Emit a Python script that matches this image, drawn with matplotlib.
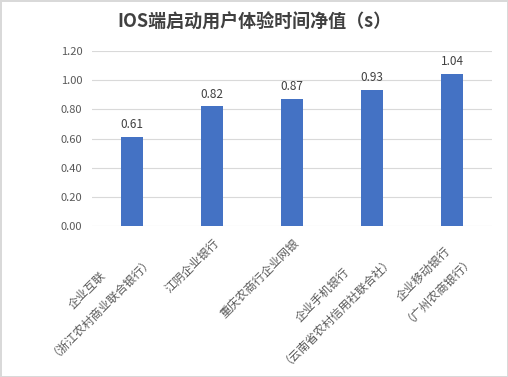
import matplotlib.pyplot as plt
import numpy as np

plt.rcParams['font.family'] = ['Noto Sans CJK SC', 'DejaVu Sans']

banks = ['企业互联\n（浙江农村商业联合银行）', '江阴企业银行', '重庆农商行企业网银',
         '企业手机银行\n（云南省农村信用社联合社）', '企业移动银行\n（广州农商银行）']
values = [0.61, 0.82, 0.87, 0.93, 1.04]
yticks = [0.0, 0.2, 0.4, 0.6, 0.8, 1.0, 1.2]

fig = plt.figure(figsize=(5.08, 3.77), dpi=100)
fig.patch.set_edgecolor('#d9d9d9')
fig.patch.set_linewidth(2)
ax = fig.add_axes([0.181, 0.40, 0.788, 0.465])

x = np.arange(len(banks))
bars = ax.bar(x, values, width=0.28, color='#4472C4', zorder=3)
for xi, v in zip(x, values):
    ax.text(xi, v + 0.04, f'{v:.2f}', ha='center', va='bottom', fontsize=8.5, color='#404040')

ax.set_ylim(0, 1.2)
ax.set_xlim(-0.5, len(banks) - 0.5)
ax.set_yticks(yticks)
ax.set_yticklabels([f'{t:.2f}' for t in yticks], fontsize=8, color='#595959')
ax.yaxis.grid(True, color='#d9d9d9', linewidth=0.8, zorder=0)
ax.tick_params(axis='y', length=0, pad=7)
ax.set_xticks(x)
ax.set_xticklabels(banks, rotation=45, ha='right', va='top', rotation_mode='anchor',
                   fontsize=8.5, color='#595959', multialignment='center', linespacing=1.55)
ax.tick_params(axis='x', length=0, pad=7)
for s in ax.spines.values():
    s.set_visible(False)

fig.text(0.5, 0.942, 'IOS端启动用户体验时间净值（s）', ha='center', va='center',
         fontsize=13, fontweight='bold', color='#404040')

fig.savefig('out.png', dpi=100)
